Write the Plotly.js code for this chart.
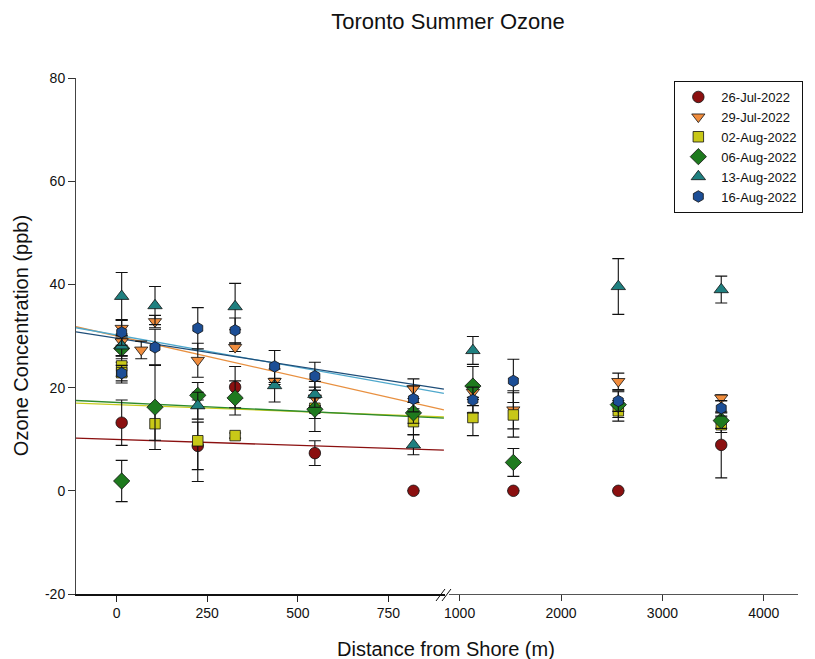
<!DOCTYPE html>
<html>
<head>
<meta charset="utf-8">
<script src="https://cdn.plot.ly/plotly-3.0.1.min.js"></script>
<style>html,body{margin:0;padding:0;background:#fff;}#chart{width:815px;height:659px;}</style>
</head>
<body>
<div id="chart"></div>
<script>
// ---- data ----
const seriesNames = ["26-Jul-2022","29-Jul-2022","02-Aug-2022","06-Aug-2022","13-Aug-2022","16-Aug-2022"];

const redX   = [14, 224, 327, 547, 819, 1530, 2565, 3580];
const redY   = [13.2, 8.7, 20.1, 7.3, 0.0, 0.0, 0.0, 8.9];
const redE   = [4.4, 4.6, 4.0, 2.4, 0, 0, 0, 6.4];

const orangeX = [14, 14, 68, 106, 224, 327, 436, 547, 819, 1131, 1530, 2565, 3580];
const orangeY = [31.5, 28.9, 27.3, 32.8, 25.3, 27.8, 21.2, 18.0, 19.8, 19.1, 15.7, 21.2, 18.0];
const orangeE = [1.5, 1.5, 1.7, 1.2, 3.3, 0.8, 0.6, 1.5, 1.9, 1.0, 3.7, 1.6, 0.6];

const yellowX = [14, 14, 106, 224, 327, 547, 819, 1131, 1530, 2565, 3580];
const yellowY = [24.2, 22.9, 13.0, 9.7, 10.7, 16.0, 13.4, 14.2, 14.7, 15.5, 12.8];
const yellowE = [2.0, 2.0, 3.2, 7.9, 0.5, 2.0, 2.5, 3.5, 4.3, 2.0, 1.5];

const greenX = [14, 14, 106, 224, 327, 547, 819, 1131, 1530, 2565, 3580];
const greenY = [27.6, 1.9, 16.2, 18.5, 18.0, 15.8, 15.1, 20.3, 5.5, 16.7, 13.6];
const greenE = [2.0, 4.0, 8.2, 2.5, 3.3, 4.3, 2.0, 3.8, 2.7, 2.5, 1.5];

const tealX = [14, 14, 106, 224, 327, 436, 547, 819, 1131, 2565, 3580];
const tealY = [37.7, 28.1, 35.9, 16.5, 35.7, 20.4, 18.7, 8.9, 27.2, 39.6, 39.0];
const tealE = [4.6, 2.0, 3.7, 2.6, 4.5, 3.2, 2.5, 1.9, 2.7, 5.4, 2.6];

const blueX = [14, 14, 106, 224, 327, 436, 547, 819, 1131, 1530, 2565, 3580];
const blueY = [30.7, 22.8, 27.8, 31.5, 31.1, 24.1, 22.2, 17.8, 17.6, 21.3, 17.4, 16.0];
const blueE = [2.5, 1.5, 3.5, 4.0, 2.4, 3.1, 2.7, 2.5, 2.5, 4.2, 2.0, 1.5];

// regression lines (near-shore segment), values at the two ends
const fitX      = [-112, 903];
const redFit    = [10.2, 7.9];
const orangeFit = [31.8, 15.7];
const yellowFit = [17.0, 14.3];
const greenFit  = [17.5, 14.1];
const tealFit   = [31.6, 18.9];
const blueFit   = [30.8, 19.7];

const xTicksLeft  = [0, 250, 500, 750];
const xTicksRight = [1000, 2000, 3000, 4000];
const yTicks = [-20, 0, 20, 40, 60, 80];
const yTickText = ["-20", "0", "20", "40", "60", "80"];
const BREAK = 900;

// ---- styling ----
const FONT = "Liberation Sans, Arial, sans-serif";
const styles = [
  {fill:"#8B1010", sym:"circle", size:11.5, line:"#8B1010"},
  {fill:"#F08C3C", sym:"triangle-down", size:11.5, line:"#E89040"},
  {fill:"#C8C818", sym:"square", size:10.5, line:"#C8CC20"},
  {fill:"#1E7A1E", sym:"diamond", size:12.5, line:"#2E8B2E"},
  {fill:"#1F8080", sym:"triangle-up", size:12.5, line:"#4FA8CC"},
  {fill:"#1C4E96", sym:"hexagon", size:11.5, line:"#1F4E79"}
];
const xs = [redX, orangeX, yellowX, greenX, tealX, blueX];
const ys = [redY, orangeY, yellowY, greenY, tealY, blueY];
const es = [redE, orangeE, yellowE, greenE, tealE, blueE];
const fits = [redFit, orangeFit, yellowFit, greenFit, tealFit, blueFit];

const traces = [];
fits.forEach((f, i) => {
  traces.push({x: fitX, y: f, mode: "lines", xaxis: "x", yaxis: "y",
    line: {color: styles[i].line, width: 1.3}, showlegend: false, hoverinfo: "skip"});
});

function split(i, left) {
  const X = [], Y = [], E = [];
  xs[i].forEach((v, k) => {
    if ((v < BREAK) === left) { X.push(v); Y.push(ys[i][k]); E.push(es[i][k]); }
  });
  return {X, Y, E};
}
[true, false].forEach(left => {
  for (let i = 0; i < 6; i++) {
    const d = split(i, left);
    traces.push({
      x: d.X, y: d.Y, mode: "markers", name: seriesNames[i],
      xaxis: left ? "x" : "x2", yaxis: "y",
      legendgroup: "g" + i, showlegend: left,
      marker: {symbol: styles[i].sym, size: styles[i].size, color: styles[i].fill,
               line: {color: "#111", width: 0.8}},
      error_y: {type: "data", array: d.E, visible: true, color: "#111", thickness: 1.1, width: 6}
    });
  }
});

const L = 76, R = 15, T = 78, B = 65, W = 815, H = 659;
const pw = W - L - R, ph = H - T - B;
const px = v => (v - L) / pw;
const py = v => (H - B - v) / ph;

const layout = {
  width: W, height: H,
  margin: {l: L, r: R, t: T, b: B},
  paper_bgcolor: "#fff", plot_bgcolor: "#fff",
  font: {family: FONT, color: "#111", size: 13},
  title: {text: "Toronto Summer Ozone", font: {family: FONT, size: 22, color: "#111"},
          x: 448 / W, xanchor: "center", y: 1 - 21 / H, yanchor: "middle"},
  xaxis: {domain: [0, px(446)], range: [-112, 906], tickvals: xTicksLeft,
          ticks: "outside", ticklen: 6, tickcolor: "#222", tickwidth: 1,
          showline: true, linecolor: "#111", linewidth: 1.6, showgrid: false, zeroline: false,
          tickfont: {size: 14, family: FONT, color: "#111"}, anchor: "y"},
  xaxis2: {domain: [px(450), 1], range: [895, 4337], tickvals: xTicksRight,
          ticks: "outside", ticklen: 6, tickcolor: "#333", tickwidth: 1,
          showline: true, linecolor: "#555", linewidth: 1.1, showgrid: false, zeroline: false,
          tickfont: {size: 14, family: FONT, color: "#111"}, anchor: "y"},
  yaxis: {range: [-20, 80], tickvals: yTicks, ticktext: yTickText, ticks: "outside", ticklen: 7,
          tickcolor: "#333", showline: true, linecolor: "#444", linewidth: 1,
          showgrid: false, zeroline: false, tickfont: {size: 14, family: FONT, color: "#111"},
          anchor: "x"},
  showlegend: true,
  legend: {x: px(676), y: py(81), xanchor: "left", yanchor: "top",
           bordercolor: "#111", borderwidth: 1, bgcolor: "#fff",
           itemwidth: 36, entrywidth: 92, entrywidthmode: "pixels",
           font: {family: FONT, size: 13, color: "#111"}, tracegroupgap: 0},
  annotations: [
    {text: "Distance from Shore (m)", xref: "paper", yref: "paper",
     x: px(447), y: py(649), xanchor: "center", yanchor: "middle", showarrow: false,
     font: {family: FONT, size: 20, color: "#111"}},
    {text: "Ozone Concentration (ppb)", xref: "paper", yref: "paper",
     x: px(21), y: py(336), xanchor: "center", yanchor: "middle", showarrow: false,
     textangle: -90, font: {family: FONT, size: 20, color: "#111"}}
  ],
  shapes: [
    {type: "line", xref: "paper", yref: "paper", x0: px(437), y0: py(601), x1: px(446), y1: py(589),
     line: {color: "#111", width: 1}},
    {type: "line", xref: "paper", yref: "paper", x0: px(443), y0: py(601), x1: px(452), y1: py(589),
     line: {color: "#111", width: 1}}
  ]
};

Plotly.newPlot("chart", traces, layout, {displayModeBar: false, staticPlot: true});
</script>
</body>
</html>
